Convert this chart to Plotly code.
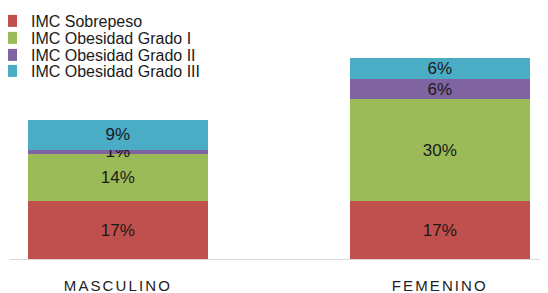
import plotly.graph_objects as go

categories = ["MASCULINO", "FEMENINO"]
series_names = ["IMC Sobrepeso", "IMC Obesidad Grado I", "IMC Obesidad Grado II", "IMC Obesidad Grado III"]
sobrepeso = [17, 17]
obesidad_1 = [14, 30]
obesidad_2 = [1, 6]
obesidad_3 = [9, 6]
colors = ["#C0504D", "#9BBB59", "#8064A2", "#4BACC6"]

series_values = [sobrepeso, obesidad_1, obesidad_2, obesidad_3]

# the page body adds an 8px offset, so the figure is 8px smaller
W, H = 540, 285
ML, MR, MT, MB = 0, 0, 29, 34
plot_h = H - MT - MB
plot_w = W - ML - MR
x_dom0 = 2 / W

FONT = "Liberation Sans, Arial, sans-serif"

fig = go.Figure()
legend_rows_px = [13, 30, 47, 63]
for i, (name, vals, col) in enumerate(zip(series_names, series_values, colors)):
    lg = "legend" if i == 0 else f"legend{i+1}"
    fig.add_trace(go.Bar(
        x=categories, y=vals, name=name,
        marker=dict(color=col, line=dict(width=0)),
        text=[f"{v}%" for v in vals],
        textposition="inside", insidetextanchor="middle",
        textangle=0,
        textfont=dict(family=FONT, size=17, color="#1a1a1a"),
        width=0.559,
        legend=lg,
        hoverinfo="skip",
    ))

layout_legends = {}
for i, py in enumerate(legend_rows_px):
    lg = "legend" if i == 0 else f"legend{i+1}"
    layout_legends[lg] = dict(
        x=-2 / plot_w, xanchor="left",
        y=(H - MB - py) / plot_h, yanchor="middle",
        indentation=-15,
        font=dict(family=FONT, size=16, color="#1a1a1a"),
        bgcolor="rgba(0,0,0,0)", borderwidth=0,
    )

fig.update_layout(
    width=W, height=H,
    margin=dict(l=ML, r=MR, t=MT, b=MB, pad=0, autoexpand=False),
    barmode="stack",
    plot_bgcolor="white", paper_bgcolor="white",
    uniformtext=dict(minsize=17, mode="show"),
    showlegend=True,
    **layout_legends,
)
fig.update_xaxes(
    domain=[x_dom0, 1],
    range=[-0.335, 1.336],
    tickmode="array", tickvals=categories,
    ticktext=[f'<span style="letter-spacing:2.1px">{c}</span>' for c in categories],
    tickfont=dict(family=FONT, size=15, color="#222222"),
    showline=True, linecolor="#D9D9D9", linewidth=1,
    ticks="", ticklabelstandoff=13,
    showgrid=False, zeroline=False,
)
fig.update_yaxes(
    range=[0, plot_h / 3.4],
    visible=False, showgrid=False, zeroline=False,
)

fig.write_html("out.html")
